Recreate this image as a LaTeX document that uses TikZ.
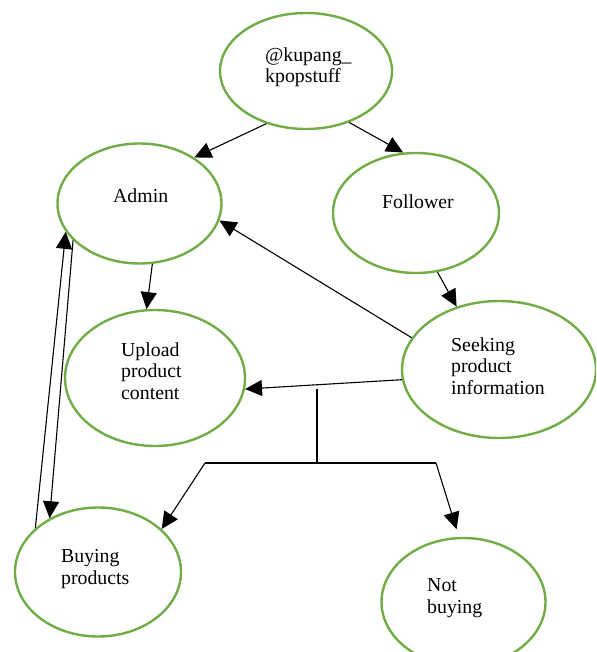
\documentclass[tikz,border=0pt]{standalone}
\usepackage{fontspec}
\setmainfont{Liberation Serif}
\usetikzlibrary{arrows.meta,shapes.geometric}
\definecolor{ovalgreen}{HTML}{70AD47}
\tikzset{
  oval/.style={ellipse, draw=ovalgreen, line width=2.4pt, fill=white, inner sep=0pt},
  lbl/.style={anchor=base west, inner sep=0pt, align=left, font=\fontsize{19.8}{21.5}\selectfont},
  conn/.style={draw=black, line width=1.1pt, -{Triangle[length=17pt,width=16pt]}},
  thick tree/.style={draw=black, line width=2.4pt},
  branch/.style={draw=black, line width=1.1pt, -{Triangle[length=17pt,width=16pt]}}
}
\begin{document}
\begin{tikzpicture}[x=1pt,y=-1pt]
\useasboundingbox (0,0) rectangle (596,652);
\clip (0,0) rectangle (596,652);
% ovals
\node[oval, minimum width=172pt, minimum height=116pt] (top) at (306,71) {};
\node[oval, minimum width=164pt, minimum height=120pt] (admin) at (139.5,203.5) {};
\node[oval, minimum width=166pt, minimum height=120pt] (follower) at (416,213) {};
\node[oval, minimum width=194pt, minimum height=137pt] (seek) at (499,369.5) {};
\node[oval, minimum width=180pt, minimum height=136pt] (upload) at (155,378) {};
\node[oval, minimum width=166pt, minimum height=129pt] (buy) at (98,572) {};
\node[oval, minimum width=164pt, minimum height=128pt] (notbuy) at (463.5,602) {};
% labels (base = baseline of last line)
\node[lbl] (ttop) at (265,83) {@kupang\_\\kpopstuff};
\node[lbl] (tadmin) at (113,203) {Admin};
\node[lbl] (tfollower) at (382,208) {Follower};
\node[lbl] (tseek) at (451,394) {Seeking\\product\\information};
\node[lbl] (tupload) at (121,399) {Upload\\product\\content};
\node[lbl] (tbuy) at (61,584) {Buying\\products};
\node[lbl] (tnotbuy) at (427,613) {Not\\buying};
% connectors
\draw[conn] (top.233) -- (admin.40);
\draw[conn] (top.310) -- (follower.102);
\draw[conn] (admin.282) -- (upload.97);
\draw[conn] (seek.160.5) -- (admin.348);
\draw[conn] (follower.290) -- (seek.124);
\draw[conn] (seek.186) -- (upload.353.5);
\draw[conn] (buy.145) -- (admin.201);
\draw[conn] (admin.209) -- (buy.132);
% tree
\coordinate (j1) at (317,389);
\coordinate (j2) at (317,463);
\coordinate (hl) at (205,463);
\coordinate (hr) at (436,463);
\draw[thick tree] (j1) -- (j2);
\draw[thick tree] (hl) -- (hr);
\draw[branch] (hl) -- (buy.34);
\draw[branch, shorten >=8pt] (hr) -- (notbuy.94);
\end{tikzpicture}
\end{document}
